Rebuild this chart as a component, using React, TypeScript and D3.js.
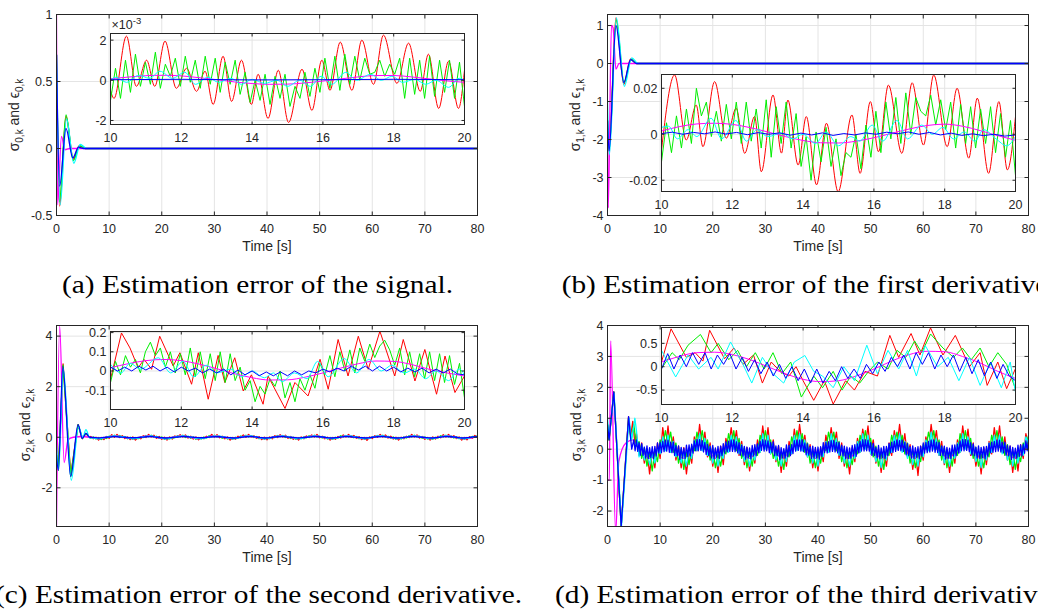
import React from 'react';
import * as d3 from 'd3';

type Pt = [number, number];

const RED = '#ff0000';
const GREEN = '#00ee00';
const CYAN = '#00ffff';
const BLUE = '#0000ff';
const MAGENTA = '#ff00ff';

// ---------- panel (a): signal error ----------
const aMainRed = [[0, 0.7], [0.6, -0.43], [1.8, 0.24], [3.2, -0.08], [4.3, 0.02], [5.5, 0], [80, 0]];
const aMainGreen = [[0, 0.7], [0.55, -0.4], [1.8, 0.25], [3.2, -0.09], [4.4, 0.02], [5.5, 0], [80, 0]];
const aMainCyan = [[0, 0.7], [0.7, -0.42], [1.9, 0.22], [3.3, -0.11], [4.5, 0.03], [5.8, 0], [80, 0]];
const aMainBlue = [[0, 0.7], [0.6, -0.28], [1.8, 0.15], [3.1, -0.07], [4.2, 0.01], [5.2, 0], [80, 0]];
const aMainMagenta = [[0, 1], [0.2, -0.42], [0.95, 0.09], [1.6, -0.01], [2.5, 0], [80, 0]];

// inset values in 1e-3
const aInRed = [[10, -0.5], [10.1, -0.9], [10.45, 2.2], [10.73, -0.3], [11.02, 1.0], [11.25, -0.3], [11.54, 1.95], [11.86, -0.4], [12.15, 0.6], [12.43, -0.55], [12.67, 0.45], [12.9, -1.2], [13.18, 1.2], [13.42, -1.05], [13.7, 1.0], [13.98, -1.2], [14.17, 0.3], [14.45, -1.9], [14.74, 0.5], [15.03, -2.1], [15.41, 0.55], [15.69, -1.5], [15.97, 1.0], [16.2, -0.5], [16.49, 1.9], [16.82, -0.5], [17.1, 2.0], [17.43, -0.2], [17.71, 2.25], [18.09, -0.15], [18.42, 1.85], [18.75, -0.55], [18.98, 1.3], [19.27, -1.4], [19.55, 0.95], [19.83, -1.4], [20, 0.5]];
const aInGreen = [-1.0, 0.6, -0.9, 1.0, -0.6, 1.3, -0.3, 0.9, -0.2, 1.4, -0.4, 0.8, 0.2, 1.1, -0.3, 1.2, -0.1, 1.0, -0.4, 1.2, -0.2, 1.1, -0.6, 0.9, -0.2, 1.0, -0.7, 0.4, -1.1, 0.0, -1.0, 0.3, -1.2, 0.2, -0.9, 0.3, -1.3, -0.3, -0.9, 0.4, -0.8, 0.6, -0.6, 1.1, -0.4, 1.2, -0.5, 1.3, -0.2, 1.2, 0.0, 1.1, 0.3, 0.4, 1.0, 0.2, 0.8, 0.3, 1.1, -0.9, 1.1, -0.7, 1.0, -0.9, 1.2, -0.8, 1.0, -0.6, 1.0, -0.9, 0.9, -1.3];
const aInCyan = [[10, 0.0], [10.15, 0.15], [10.45, -0.1], [10.8, 0.25], [11.1, 0.1], [11.4, 0.45], [11.75, 0.1], [12.1, 0.4], [12.4, -0.2], [12.75, 0.15], [13.05, -0.1], [13.4, 0.1], [13.7, -0.2], [14.0, 0.05], [14.35, -0.15], [14.7, 0.0], [15.0, -0.3], [15.35, 0.0], [15.65, -0.3], [15.95, 0.2], [16.25, -0.2], [16.65, 0.4], [16.95, 0.0], [17.35, 0.3], [17.65, 0.0], [17.95, 0.2], [18.25, -0.1], [18.6, 0.05], [18.9, -0.2], [19.2, 0.0], [19.55, -0.35], [19.85, 0.1], [20, 0.0]];
const aInBlue = [[10, 0.03], [12, 0.05], [14, 0.02], [16, 0.03], [18, 0.05], [20, 0.03]];
const aInMagenta = [0.08, 0.16, 0.23, 0.25, 0.22, 0.13, 0.03, -0.08, -0.16, -0.2, -0.19, -0.13, -0.04, 0.07, 0.17, 0.24, 0.24, 0.17, 0.07, -0.03, -0.1];

// ---------- panel (b): first derivative ----------
const bMainRed = [[0, -1.5], [0.3, -2.3], [1.6, 1.2], [3.1, -0.55], [4.4, 0.12], [5.5, 0], [80, 0]];
const bMainGreen = [[0, -1.5], [0.3, -2.3], [1.65, 1.15], [3.15, -0.5], [4.5, 0.1], [5.6, 0], [80, 0]];
const bMainCyan = [[0, -1.0], [0.35, -2.4], [1.7, 1.2], [3.2, -0.6], [4.6, 0.15], [5.8, 0], [80, 0]];
const bMainBlue = [[0, -1.5], [0.3, -2.3], [1.6, 1.0], [3.1, -0.5], [4.4, 0.1], [5.5, 0], [80, 0]];
const bMainMagenta = [[0, -1.5], [0.15, -3.8], [0.75, 1.0], [1.05, 0.95], [1.6, -0.15], [2.2, 0], [80, 0]];

// inset values in 1e-3
const bInRed = [[10, -6.8], [10.37, 25.8], [10.7, -2.5], [10.98, 12.7], [11.17, -5.4], [11.5, 22.9], [11.83, -1.7], [12.11, 11.3], [12.35, -8.3], [12.63, 7.7], [12.82, -16.3], [13.15, 17.1], [13.39, -8.2], [13.57, 14.9], [13.86, -13.4], [14.09, 7.7], [14.38, -22], [14.66, 4.8], [14.99, -25], [15.38, 8.4], [15.61, -17], [15.9, 14.2], [16.13, -7.6], [16.41, 21.4], [16.79, -8.3], [17.08, 22.4], [17.4, -4.7], [17.69, 25.8], [18.07, -5.4], [18.35, 20], [18.68, -10.4], [18.92, 15.7], [19.24, -17], [19.53, 14.2], [19.77, -15.5], [20, 7.7]];
const bInGreen = [-12, 5, -8, 8, -6, 11, -4, 20, 8, 14, -1, 10, -3, 13, -2, 14, -4, 14, -3, 11, -6, 15, -10, 12, -4, 14, -6, 9, -14, -1, -20, 1, -12, 3, -14, -2, -18, -8, -10, 0, -15, 4, -10, 10, -8, 14, -2, 16, -4, 18, 0, 16, 10, 8, 17, 4, 15, 2, 14, -6, 13, -4, 12, -6, 11, -4, 12, -8, 9, -10, 6, -18];
const bInCyan = [[10, 3], [10.2, 3.5], [10.45, -2], [10.75, 2], [11.0, -1], [11.4, 7], [11.7, -2], [12.1, 6], [12.4, -3], [12.7, 2], [13.0, -1], [13.4, 0.5], [13.7, -2], [14.0, 0], [14.35, -4], [14.65, 1], [15.0, -5], [15.35, -1], [15.6, -3], [15.95, 4], [16.25, -3], [16.65, 6], [16.95, -2], [17.35, 4], [17.65, 0], [17.95, 3], [18.25, -2], [18.55, 1], [18.85, -3], [19.1, 2], [19.45, -2], [19.75, -5], [20, -1]];
const bInBlue = [0.3, 0.9, 0.0, 0.8, 0.2, 1.0, 0.1, 0.8, -0.2, 0.7, 0.0, 0.6, -0.4, 0.5, -0.3, 0.6, -0.5, 0.3, -0.3, 0.6, 0.0, 0.9, 0.2, 1.0, 0.0, 0.8, -0.3, 0.5, -0.5, 0.2, -0.6, 0.0, -0.8, -0.3];
const bInMagenta = [1.4, 3.3, 4.5, 4.8, 4.3, 2.9, 1.0, -1.0, -2.7, -3.7, -3.8, -3.0, -1.5, 0.4, 2.3, 3.8, 4.4, 3.5, 1.6, -0.6, -2.6];

// ---------- panel (c): second derivative ----------
const cMainRedHead = [[0, -0.7], [0.35, -1.3], [1.25, 2.9], [2.7, -1.5], [4.1, 0.5], [4.9, -0.05], [5.6, 0.15], [6.2, 0.0]];
const cMainRedTail = [3, -6, 0, -11, -1, -9, 3, -4, 10, 0, 11, -1, 6, -5, 1, -9, 1, -11, -1, -6, 6, -1, 11, 1, 8, -4, 3, -8, 0, -11, 1, -7, 5, 0, 10, 1, 9, -3, 4, -7, 1, -10, -1, -6, 4, -1, 11, 1, 10, -2, 4, -6, 1, -11, -1, -8, 4, -2, 9, 0, 11, 1, 6, -4, 2, -9, 0, -10, 1, -6, 6, -1, 10, 1, 8, -4, 3, -8, -1, -11, 1, -6, 5, -1, 9, 1, 11, -2, 4, -6, 0, -11, -1, -8, 3, -3, 9, 1, 11, 0, 7, -4, 2, -9, -1, -12, 1, -5, 6, 0, 11, 1, 9, -3, 4, -7, 0, -11, 0, -6, 4, -1, 11, 1, 9, -3, 3, -8, -1, -11, 1, -7, 4, -2, 10, 1, 11, -1, 6, -5, 1, -11, -1, -10, 2, -4, 7, 1];
const cMainGreenHead = [[0, -0.7], [0.35, -1.3], [1.25, 2.85], [2.7, -1.55], [4.1, 0.5], [4.9, -0.05], [5.6, 0.15], [6.2, 0.0]];
const cMainGreenTail = [-4, 1, -7, -1, -9, -1, -5, 4, 1, 8, 2, 7, -1, 3, -6, 0, -8, -1, -6, 1, -1, 7, 2, 8, 0, 4, -4, 1, -8, -2, -7, 0, -2, 6, 1, 8, -1, 4, -4, 1, -8, -1, -7, 1, -3, 6, 2, 8, 1, 4, -4, 0, -7, -1, -8, 0, -3, 5, 1, 8, 1, 6, -1, 3, -6, -1, -8, -1, -6, 1, -1, 7, 2, 7, -1, 3, -5, 0, -8, -2, -6, 1, -2, 6, 1, 8, 1, 4, -3, 1, -7, -1, -8, 0, -3, 6, 1, 7, 1, 6, -2, 3, -6, -1, -8, -1, -5, 2, 0, 7, 2, 8, 0, 4, -4, 1, -8, -1, -7, 1, -3, 6, 1, 8, 1, 4, -4, 1, -7, -2, -8, 0, -3, 6, 1, 8, 1, 5, -3, 2, -6, -1, -8, -1, -5, 3, 1, 6];
const cMainCyanHead = [[0, -0.3], [0.4, -1.3], [1.3, 2.7], [2.8, -1.7], [4.2, 0.4], [5.0, 0.0], [5.6, 0.3], [6.3, -0.02]];
const cMainCyanTail = [-3, -6, -2, 2, 5, 3, 0, -4, -5, -1, 3, 5, 1, -3, -6, -2, 2, 5, 3, -1, -5, -4, 1, 4, 4, 0, -4, -5, 0, 4, 5, 1, -4, -5, -1, 3, 5, 2, -2, -5, -3, 2, 5, 3, -1, -5, -4, 1, 5, 4, 0, -4, -5, 0, 4, 5, 1, -3, -5, -2, 3, 5, 2, -2, -5, -3, 2, 5, 3, -1, -5, -4, 1, 3];
const cMainBlueHead = [[0, -0.7], [0.35, -1.3], [1.2, 2.8], [2.7, -1.55], [4.1, 0.5], [4.9, -0.05], [5.6, 0.15], [6.3, 0.0]];
const cMainBlueTail = [-1, -3, -1, 1, 3, 1, 0, -2, -2, 0, 2, 3, 0, -2, -3, -1, 1, 3, 2, 0, -2, -2, 1, 2, 2, 0, -2, -3, 0, 2, 3, 1, -2, -3, 0, 2, 3, 1, -1, -3, -1, 1, 3, 2, 0, -3, -2, 1, 3, 2, 0, -2, -3, 0, 2, 3, 1, -2, -3, -1, 2, 3, 1, -1, -3, -2, 1, 3, 2, 0, -3, -2, 1, 2];
const cMainMagenta = [[0, -3.5], [0.6, 4.4], [1.45, -1.0], [2.2, -0.1], [3.2, 0], [4.9, 0.03], [8.05, -0.05], [11.2, 0.05], [14.35, -0.05], [17.5, 0.05], [20.65, -0.05], [23.8, 0.05], [26.95, -0.05], [30.1, 0.05], [33.25, -0.05], [36.4, 0.05], [39.55, -0.05], [42.7, 0.05], [45.85, -0.05], [49, 0.05], [52.15, -0.05], [55.3, 0.05], [58.45, -0.05], [61.6, 0.05], [64.75, -0.05], [67.9, 0.05], [71.05, -0.05], [74.2, 0.05], [77.35, -0.05], [80, 0.03]];

// inset values in 1e-2
const cInRed = [[10, -4.3], [10.31, 19.8], [10.55, 12], [10.78, 1.7], [10.95, 6], [11.16, 0.9], [11.39, 18.1], [11.77, 2.6], [11.96, 9.5], [12.29, -6.9], [12.48, 9.5], [12.76, -14.7], [13.04, 8.1], [13.23, -6], [13.51, 6.9], [13.75, -10.4], [13.98, -2], [14.31, -17.3], [14.45, -2.6], [14.93, -19.5], [15.21, -6], [15.58, -13], [15.92, 6.1], [16.15, -9.5], [16.43, 16.4], [16.71, -2.6], [17.0, 18.1], [17.28, 0.9], [17.61, 20.7], [18.03, -2.6], [18.27, 16.4], [18.6, -5.2], [18.88, 11.2], [19.21, -12.1], [19.45, 7.8], [19.73, -11.2], [20, -2.6]];
const cInGreen = [-6, 5, -2, 8, 2, 6, -1, 10, 15, 8, 12, 2, 10, -1, 9, -2, 12, -3, 10, -4, 9, -5, 10, -6, 9, -5, 2, -10, -5, -16, -8, -12, -4, -8, 0, -14, -6, -16, -4, -10, -2, -9, 4, -2, 8, -3, 10, 0, 11, -1, 12, 5, 14, 7, 13, 16, 11, 3, 12, -2, 10, -3, 9, -4, 10, -5, 9, -6, 8, -7, 4, -14];
const cInCyan = [[10, 3.5], [10.3, -1], [10.55, 4], [10.85, 1], [11.35, 6.9], [11.7, -1], [12.05, 5], [12.35, -3], [12.7, 3], [13.0, -1], [13.4, 1], [13.7, -3], [14.0, 0], [14.35, -3.5], [14.6, -1], [14.85, -5.5], [15.2, -1], [15.55, -4], [15.85, 5], [16.15, -3], [16.6, 6.5], [16.95, -1], [17.3, 6], [17.65, 0], [17.95, 3], [18.3, -1], [18.6, 1], [18.9, -4], [19.2, 0], [19.55, -5], [19.85, 1], [20, -2]];
const cInBlue = [2, 0, 2, 0, 2.5, 0.5, 2.5, 0, 2, -0.5, 2, 0, 1.5, -1, 1, -1, 1, -2, 0.5, -2, 0, -2.5, -0.5, -2.5, -0.5, -2.5, 0, -2, 0, -1, 1, -0.5, 1.5, 0, 2.5, 0.5, 2.5, 0, 2.5, 0, 2, -0.5, 1.5, -0.5, 1.5, -1, 1, -1, 1, -1.5, -2];
const cInMagenta = [1.7, 3.8, 5.4, 6.0, 5.4, 3.6, 1.2, -1.4, -3.5, -4.7, -4.6, -3.2, -1.0, 1.5, 3.8, 5.2, 5.0, 3.4, 0.9, -1.0, -2.6];

// ---------- panel (d): third derivative ----------
const dMainRedHead = [[0, 0.8], [0.3, 0.3], [1.2, 1.85], [2.6, -2.5], [4.0, 1.05], [4.4, 0.4], [4.8, 0.9], [5.2, 0.2]];
const dMainRedTail = [50, -20, 20, -45, 0, -80, -5, -60, 20, -30, 70, 0, 75, -10, 40, -35, 10, -60, 5, -80, -5, -45, 40, -5, 80, 5, 55, -25, 20, -55, 0, -75, 10, -50, 35, 0, 70, 10, 60, -20, 25, -50, 5, -70, -5, -45, 30, -10, 75, 5, 70, -15, 30, -40, 10, -75, -5, -55, 25, -15, 65, 0, 80, 10, 45, -25, 15, -60, 0, -70, 5, -40, 45, -5, 70, 5, 55, -30, 20, -55, -5, -80, 5, -40, 35, -10, 65, 10, 75, -15, 30, -45, 0, -75, -10, -55, 20, -20, 60, 5, 80, 0, 50, -25, 15, -65, -5, -85, 10, -35, 40, 0, 80, 10, 60, -20, 25, -50, 0, -75, 0, -45, 30, -10, 75, 5, 65, -20, 20, -55, -5, -80, 5, -50, 25, -15, 70, 5, 75, -10, 40, -35, 10, -75, -5, -70, 15, -30, 50, 10];
const dMainGreenHead = [[0, 0.8], [0.3, 0.3], [1.2, 1.85], [2.6, -2.5], [4.0, 1.0], [4.5, 0.3], [5.0, 0.8]];
const dMainGreenTail = [10, 25, -30, 5, -55, -10, -70, -5, -40, 30, 10, 60, 15, 55, -10, 20, -45, 0, -65, -10, -50, 10, -5, 55, 15, 60, 0, 30, -35, 5, -60, -15, -55, 0, -15, 50, 10, 60, -5, 35, -30, 5, -60, -10, -55, 5, -20, 45, 15, 60, 5, 30, -30, 0, -55, -10, -65, 0, -25, 40, 10, 60, 10, 50, -10, 20, -45, -5, -60, -10, -45, 10, -5, 55, 15, 55, -5, 25, -40, 0, -60, -15, -50, 5, -15, 45, 10, 60, 5, 35, -25, 10, -55, -10, -65, 0, -20, 45, 10, 55, 10, 45, -15, 20, -45, -5, -60, -10, -40, 15, 0, 55, 15, 60, 0, 30, -35, 5, -60, -10, -55, 5, -20, 50, 10, 60, 5, 35, -30, 5, -55, -15, -60, 0, -25, 45, 10, 60, 5, 40, -20, 15, -50, -5, -65, -10, -40, 20, 5, 45];
const dMainCyanHead = [[0, 1.0], [0.3, 0.4], [1.25, 1.8], [2.65, -2.5], [4.1, 1.0], [4.6, 0.3], [5.2, 1.0]];
const dMainCyanTail = [60, -25, 15, -35, -5, -50, -15, -45, 5, -15, 40, -5, 45, -10, 25, -25, 0, -45, -10, -55, 0, -30, 30, -5, 50, -5, 35, -20, 10, -45, -5, -55, -10, -30, 20, -10, 45, 0, 40, -15, 15, -40, -5, -55, -10, -35, 15, -10, 50, 0, 45, -15, 20, -35, -5, -55, -5, -40, 10, -15, 45, -5, 50, -5, 30, -25, 5, -45, -10, -55, 0, -25, 25, -10, 50, 0, 35, -20, 10, -45, -5, -55, -5, -30, 25, -10, 50, 0, 45, -15, 15, -40, -5, -60, -10, -35, 15, -10, 45, 0, 50, -10, 25, -30, 5, -50, -10, -55, 5, -25, 30, -5, 55, 0, 35, -20, 10, -45, -5, -55, -5, -30, 20, -10, 50, 0, 40, -15, 15, -40, -5, -60, -5, -35, 20, -10, 45, 5, 45, -15, 20, -35, 0, -55, -10, -45, 10, -20, 40, 20];
const dMainBlueHead = [[0, 0.8], [0.3, 0.3], [1.2, 1.85], [2.6, -2.5], [4.0, 1.05], [4.6, 0.0], [5.0, 0.3]];
const dMainBlueTail = [
  -5, 30, -7, 21, -19, 18, -20, 7, -29, 11, -30, 5, -27, 8, -31, 9, -22, 20, -12, 23, -11, 25, -8, 29,
  -6, 29, -10, 23, -11, 23, -20, 12, -21, 11, -33, 6, -29, 3, -30, 13, -23, 14, -22, 16, -13, 27, -5, 32, -5,
  31, -4, 28, -9, 22, -17, 16, -21, 9, -28, 12, -31, 4, -26, 9, -30, 10, -21, 18, -13, 24, -9, 26, -7, 30,
  -7, 30, -8, 24, -12, 21, -19, 13, -22, 9, -32, 7, -28, 4, -31, 12, -22, 15, -21, 17, -12, 26, -4, 31, -6, 28,
  -5, 27, -11, 22, -10, 24, -21, 11, -20, 12, -34, 5, -28, 2, -29, 14, -24, 13, -21, 15, -14, 28, -6, 30, -4,
  29, -6, 31, -8, 20, -18, 17, -19, 8, -30, 10, -29, 6, -28, 7, -32, 8, -23, 21, -11, 22, -12, 24, -9, 28,
  -7, 28, -9, 22, -12, 22, -19, 13, -22, 10, -31, 7, -30, 4, -29, 12, -22, 15, -23, 17, -12, 26, -6, 31, -6,
  30, -5, 29, -6, 21, -20, 19, -20, 6, -28, 12, -31, 4, -27, 9, -30, 9, -21, 19, -12, 23, -10, 26, -7, 30, -4,
  28, -5, 30, -7, 22, -18, 18, -21, 8, -29, 11, -30, 5, -26, 8, -31, 10, -22, 20, -13, 22, -11, 25, -9, 29,
  -6, 30, -10, 23, -11, 22, -20, 11, -21, 10, -32, 6, -29, 3, -30, 13, -22, 14, -21, 16, -13, 27, -5, 32, -5,
  31, -4, 29, -8, 21, -19, 17, -21, 7, -29, 11, -30, 6, -27, 8, -31, 9, -22, 19, -12, 23, -10, 25, -8, 29,
  -6, 29, -9, 23, -12, 23, -19, 12, -22, 11, -33, 6, -28, 3, -29, 13, -23, 14, -22, 16, -13, 27, -5, 31,
];
const dMainMagenta = [[0, -1.0], [0.35, -1.0], [0.6, 3.5], [1.55, -2.7], [2.15, -0.4], [3.5, 0.2], [4.9, 0.3], [8.05, -0.3], [11.2, 0.3], [14.35, -0.3], [17.5, 0.3], [20.65, -0.3], [23.8, 0.3], [26.95, -0.3], [30.1, 0.3], [33.25, -0.3], [36.4, 0.3], [39.55, -0.3], [42.7, 0.3], [45.85, -0.3], [49, 0.3], [52.15, -0.3], [55.3, 0.3], [58.45, -0.3], [61.6, 0.3], [64.75, -0.3], [67.9, 0.3], [71.05, -0.3], [74.2, 0.3], [77.35, -0.3], [80, 0.2]];

// inset values in 1e-2
const dInRed = [[10, 10], [10.27, 81], [10.7, 20], [10.95, 30], [11.17, 12], [11.36, 78], [11.78, 17], [12.05, 40], [12.3, 5], [12.6, 25], [12.85, -35], [13.1, 10], [13.35, -10], [13.6, -20], [13.8, 0], [14.0, -30], [14.3, -72], [14.6, -30], [14.85, -80], [15.2, -30], [15.45, -50], [15.75, -10], [16.1, -20], [16.45, 67], [16.7, 20], [17.05, 71], [17.3, 25], [17.6, 83], [17.95, 25], [18.3, 67], [18.7, 0], [19.0, 30], [19.2, -40], [19.5, 10], [19.75, -47], [20, -4]];
const dInGreen = [[10, -4], [10.3, 30], [10.5, 15], [10.75, 46], [11.1, 69], [11.4, 30], [11.6, 50], [11.9, 15], [12.15, 35], [12.4, 0], [12.65, 30], [12.9, -5], [13.15, 30], [13.4, -15], [13.65, 10], [13.95, -65], [14.3, -20], [14.55, -45], [14.85, -10], [15.1, -50], [15.35, -20], [15.6, -35], [15.85, -10], [16.1, 10], [16.4, -5], [16.65, 35], [16.9, 20], [17.15, 55], [17.35, 30], [17.6, 70], [17.95, 40], [18.25, 20], [18.5, 40], [18.75, 15], [19.0, 40], [19.25, 0], [19.5, 30], [19.75, 5], [20, -48]];
const dInCyan = [[10, 35], [10.4, -22], [10.75, 25], [11.05, -5], [11.4, 20], [11.6, -5], [11.95, 53], [12.3, 5], [12.55, -35], [12.85, 20], [13.15, -15], [13.45, -35], [13.75, 10], [14.05, 24], [14.3, -10], [14.55, -20], [14.85, -45], [15.15, 0], [15.45, -30], [15.8, 46], [16.1, -15], [16.4, 35], [16.7, -5], [16.95, 35], [17.2, -20], [17.45, 45], [17.8, 0], [18.1, 20], [18.4, -30], [18.7, 20], [19.0, -40], [19.3, 10], [19.6, -45], [19.85, 10], [20, -55]];
const dInBlue = [-5, 28, -5, 25, 0, 30, 5, 30, -5, 25, 5, 28, -5, 20, -10, 15, -15, 10, -20, 5, -25, 0, -30, -5, -35, -5, -35, -10, -30, 0, -25, -5, -25, 5, -15, 10, -10, 20, 0, 25, -5, 30, 5, 30, -5, 25, 0, 25, -10, 20, -15, 15, -20, 10, -25, 5, -20, -30];
const dInMagenta = [10, 22, 30, 31, 26, 15, 0, -15, -27, -32, -30, -20, -5, 12, 26, 33, 32, 22, 8, -10, -25];

const mainXTicks = [0, 10, 20, 30, 40, 50, 60, 70, 80];
const insetXTicks = [10, 12, 14, 16, 18, 20];

// helpers: read pairs / evenly sampled lists into points
const pairs = (arr: number[][], u = 1): Pt[] => arr.map((p) => [p[0], p[1] * u] as Pt);
const even = (t0: number, t1: number, vals: number[], u = 1): Pt[] =>
  vals.map((v, i) => [t0 + ((t1 - t0) * i) / (vals.length - 1), v * u] as Pt);

type S = { color: string; pts: Pt[]; smooth?: boolean };
type Ax = {
  id: string;
  x0: number; x1: number; y0: number; y1: number;
  xd: [number, number]; yd: [number, number];
  xt: number[]; yt: number[];
  yfmt: (v: number) => string;
  tick: number;
  inset?: boolean;
  lw: number;
  series: S[];
};

const FONT = 'Liberation Sans, Arial, Helvetica, sans-serif';
const AXC = '#262626';

function Axes({ a }: { a: Ax }) {
  const xs = d3.scaleLinear().domain(a.xd).range([a.x0, a.x1]);
  const ys = d3.scaleLinear().domain(a.yd).range([a.y1, a.y0]);
  const clip = `clip-${a.id}`;
  const w = a.x1 - a.x0;
  const h = a.y1 - a.y0;
  return (
    <g>
      <rect x={a.x0} y={a.y0} width={w} height={h} fill="#fff" />
      <g stroke="#e4e4e4" strokeWidth={1}>
        {a.xt.map((t) => (
          <line key={'gx' + t} x1={xs(t)} x2={xs(t)} y1={a.y0} y2={a.y1} />
        ))}
        {a.yt.map((v) => (
          <line key={'gy' + v} x1={a.x0} x2={a.x1} y1={ys(v)} y2={ys(v)} />
        ))}
      </g>
      <clipPath id={clip}>
        <rect x={a.x0} y={a.y0} width={w} height={h} />
      </clipPath>
      <g clipPath={`url(#${clip})`} fill="none" strokeLinejoin="round">
        {a.series.map((s, i) => {
          const gen = d3
            .line<Pt>()
            .x((d) => xs(d[0]))
            .y((d) => ys(d[1]))
            .curve(s.smooth ? d3.curveMonotoneX : d3.curveLinear);
          return <path key={i} d={gen(s.pts) || ''} stroke={s.color} strokeWidth={a.lw} />;
        })}
      </g>
      <rect x={a.x0} y={a.y0} width={w} height={h} fill="none" stroke={AXC} strokeWidth={1} />
      <g stroke={AXC} strokeWidth={1}>
        {a.xt.map((t) => (
          <g key={'tx' + t}>
            <line x1={xs(t)} x2={xs(t)} y1={a.y1} y2={a.y1 - a.tick} />
            <line x1={xs(t)} x2={xs(t)} y1={a.y0} y2={a.y0 + a.tick} />
          </g>
        ))}
        {a.yt.map((v) => (
          <g key={'ty' + v}>
            <line x1={a.x0} x2={a.x0 + a.tick} y1={ys(v)} y2={ys(v)} />
            <line x1={a.x1} x2={a.x1 - a.tick} y1={ys(v)} y2={ys(v)} />
          </g>
        ))}
      </g>
      <g fontFamily={FONT} fontSize={12.5} fill={AXC}>
        {a.xt.map((t) => (
          <text key={'lx' + t} x={xs(t)} y={a.y1 + 17} textAnchor="middle">
            {t}
          </text>
        ))}
        {a.yt.map((v) => (
          <text key={'ly' + v} x={a.x0 - 4} y={ys(v)} dy="0.35em" textAnchor="end">
            {a.yfmt(v)}
          </text>
        ))}
      </g>
    </g>
  );
}

function YLabel({ x, y, k }: { x: number; y: number; k: number }) {
  return (
    <text transform={`translate(${x},${y}) rotate(-90)`} textAnchor="middle" fontFamily={FONT} fontSize={14} fill={AXC}>
      <tspan>σ</tspan>
      <tspan dy={4} fontSize={10}>{`${k},k`}</tspan>
      <tspan dy={-4}> and ϵ</tspan>
      <tspan dy={4} fontSize={10}>{`${k},k`}</tspan>
    </text>
  );
}

const str = (v: number) => String(v);

export default function App() {
  const sm = true;
  const panels: { main: Ax; inset: Ax; yl: [number, number]; k: number }[] = [
    {
      k: 0,
      yl: [19, 115],
      main: {
        id: 'am', x0: 56.5, x1: 477.5, y0: 14.5, y1: 215.5, xd: [0, 80], yd: [-0.5, 1],
        xt: mainXTicks, yt: [-0.5, 0, 0.5, 1], yfmt: str, tick: 4, lw: 1.3,
        series: [
          { color: RED, pts: pairs(aMainRed), smooth: sm },
          { color: GREEN, pts: pairs(aMainGreen), smooth: sm },
          { color: MAGENTA, pts: pairs(aMainMagenta), smooth: sm },
          { color: CYAN, pts: pairs(aMainCyan), smooth: sm },
          { color: BLUE, pts: pairs(aMainBlue), smooth: sm },
        ],
      },
      inset: {
        id: 'ai', x0: 110.5, x1: 464.5, y0: 33.5, y1: 124.5, xd: [10, 20], yd: [-2.2e-3, 2.33e-3],
        xt: insetXTicks, yt: [-2e-3, 0, 2e-3], yfmt: (v) => String(Math.round(v * 1000)), tick: 3, lw: 1, inset: true,
        series: [
          { color: RED, pts: pairs(aInRed, 1e-3), smooth: sm },
          { color: GREEN, pts: even(10, 20, aInGreen, 1e-3) },
          { color: MAGENTA, pts: even(10, 20, aInMagenta, 1e-3), smooth: sm },
          { color: CYAN, pts: pairs(aInCyan, 1e-3), smooth: sm },
          { color: BLUE, pts: pairs(aInBlue, 1e-3) },
        ],
      },
    },
    {
      k: 1,
      yl: [580, 115],
      main: {
        id: 'bm', x0: 607.5, x1: 1028.5, y0: 14.5, y1: 215.5, xd: [0, 80], yd: [-4, 1.29],
        xt: mainXTicks, yt: [-4, -3, -2, -1, 0, 1], yfmt: str, tick: 4, lw: 1.3,
        series: [
          { color: RED, pts: pairs(bMainRed), smooth: sm },
          { color: GREEN, pts: pairs(bMainGreen), smooth: sm },
          { color: MAGENTA, pts: pairs(bMainMagenta), smooth: sm },
          { color: CYAN, pts: pairs(bMainCyan), smooth: sm },
          { color: BLUE, pts: pairs(bMainBlue), smooth: sm },
        ],
      },
      inset: {
        id: 'bi', x0: 661.5, x1: 1015.5, y0: 74.5, y1: 191.5, xd: [10, 20], yd: [-0.0249, 0.026],
        xt: insetXTicks, yt: [-0.02, 0, 0.02], yfmt: str, tick: 3, lw: 1, inset: true,
        series: [
          { color: RED, pts: pairs(bInRed, 1e-3), smooth: sm },
          { color: GREEN, pts: even(10, 20, bInGreen, 1e-3) },
          { color: MAGENTA, pts: even(10, 20, bInMagenta, 1e-3), smooth: sm },
          { color: CYAN, pts: pairs(bInCyan, 1e-3), smooth: sm },
          { color: BLUE, pts: even(10, 20, bInBlue, 1e-3) },
        ],
      },
    },
    {
      k: 2,
      yl: [30, 425],
      main: {
        id: 'cm', x0: 56.5, x1: 477.5, y0: 325.5, y1: 526.5, xd: [0, 80], yd: [-3.53, 4.42],
        xt: mainXTicks, yt: [-2, 0, 2, 4], yfmt: str, tick: 4, lw: 1.3,
        series: [
          { color: RED, pts: [...pairs(cMainRedHead), ...even(6.5, 80, cMainRedTail, 0.01)] },
          { color: GREEN, pts: [...pairs(cMainGreenHead), ...even(6.5, 80, cMainGreenTail, 0.01)] },
          { color: MAGENTA, pts: pairs(cMainMagenta), smooth: sm },
          { color: CYAN, pts: [...pairs(cMainCyanHead), ...even(7, 80, cMainCyanTail, 0.01)], smooth: sm },
          { color: BLUE, pts: [...pairs(cMainBlueHead), ...even(7, 80, cMainBlueTail, 0.01)], smooth: sm },
        ],
      },
      inset: {
        id: 'ci', x0: 110.5, x1: 464.5, y0: 331.5, y1: 409.5, xd: [10, 20], yd: [-0.2005, 0.2057],
        xt: insetXTicks, yt: [-0.1, 0, 0.1, 0.2], yfmt: str, tick: 3, lw: 1, inset: true,
        series: [
          { color: RED, pts: pairs(cInRed, 0.01) },
          { color: GREEN, pts: even(10, 20, cInGreen, 0.01) },
          { color: MAGENTA, pts: even(10, 20, cInMagenta, 0.01), smooth: sm },
          { color: CYAN, pts: pairs(cInCyan, 0.01), smooth: sm },
          { color: BLUE, pts: even(10, 20, cInBlue, 0.01) },
        ],
      },
    },
    {
      k: 3,
      yl: [581, 425],
      main: {
        id: 'dm', x0: 607.5, x1: 1028.5, y0: 325.5, y1: 526.5, xd: [0, 80], yd: [-2.5, 4],
        xt: mainXTicks, yt: [-2, -1, 0, 1, 2, 3, 4], yfmt: str, tick: 4, lw: 1.3,
        series: [
          { color: MAGENTA, pts: pairs(dMainMagenta), smooth: sm },
          { color: RED, pts: [...pairs(dMainRedHead), ...even(5.5, 80, dMainRedTail, 0.01)] },
          { color: GREEN, pts: [...pairs(dMainGreenHead), ...even(5.5, 80, dMainGreenTail, 0.01)] },
          { color: CYAN, pts: [...pairs(dMainCyanHead), ...even(5.5, 80, dMainCyanTail, 0.01)] },
          { color: BLUE, pts: [...pairs(dMainBlueHead), ...even(5.25, 80, dMainBlueTail, 0.01)] },
        ],
      },
      inset: {
        id: 'di', x0: 661.5, x1: 1015.5, y0: 327.5, y1: 404.5, xd: [10, 20], yd: [-0.809, 0.839],
        xt: insetXTicks, yt: [-0.5, 0, 0.5], yfmt: str, tick: 3, lw: 1, inset: true,
        series: [
          { color: RED, pts: pairs(dInRed, 0.01) },
          { color: GREEN, pts: pairs(dInGreen, 0.01) },
          { color: MAGENTA, pts: even(10, 20, dInMagenta, 0.01), smooth: sm },
          { color: CYAN, pts: pairs(dInCyan, 0.01) },
          { color: BLUE, pts: even(10, 20, dInBlue, 0.01) },
        ],
      },
    },
  ];

  const captions = [
    { x: 62, y: 293, len: 391, text: '(a) Estimation error of the signal.' },
    { x: 561.7, y: 293, len: 494, text: '(b) Estimation error of the first derivative.' },
    { x: -5, y: 603, len: 527, text: '(c) Estimation error of the second derivative.' },
    { x: 555, y: 603, len: 503, text: '(d) Estimation error of the third derivative.' },
  ];

  return (
    <svg
      width={1038}
      height={612}
      viewBox="0 0 1038 612"
      style={{ position: 'absolute', left: 0, top: 0, background: '#fff' }}
    >
      <rect x={0} y={0} width={1038} height={612} fill="#fff" />
      {panels.map((p) => (
        <g key={p.main.id}>
          <Axes a={p.main} />
          <text
            x={(p.main.x0 + p.main.x1) / 2}
            y={p.main.y1 + 35}
            textAnchor="middle"
            fontFamily={FONT}
            fontSize={14}
            fill={AXC}
          >
            Time [s]
          </text>
          <YLabel x={p.yl[0]} y={p.yl[1]} k={p.k} />
          <Axes a={p.inset} />
        </g>
      ))}
      <text x={111.5} y={29} fontFamily={FONT} fontSize={12.5} fill={AXC}>
        ×10
        <tspan dy={-5} fontSize={9.5}>-3</tspan>
      </text>
      {captions.map((c) => (
        <text
          key={c.text}
          x={c.x}
          y={c.y}
          textLength={c.len}
          lengthAdjust="spacingAndGlyphs"
          fontFamily="Liberation Serif, Times New Roman, serif"
          fontSize={26}
          fill="#000"
        >
          {c.text}
        </text>
      ))}
    </svg>
  );
}
